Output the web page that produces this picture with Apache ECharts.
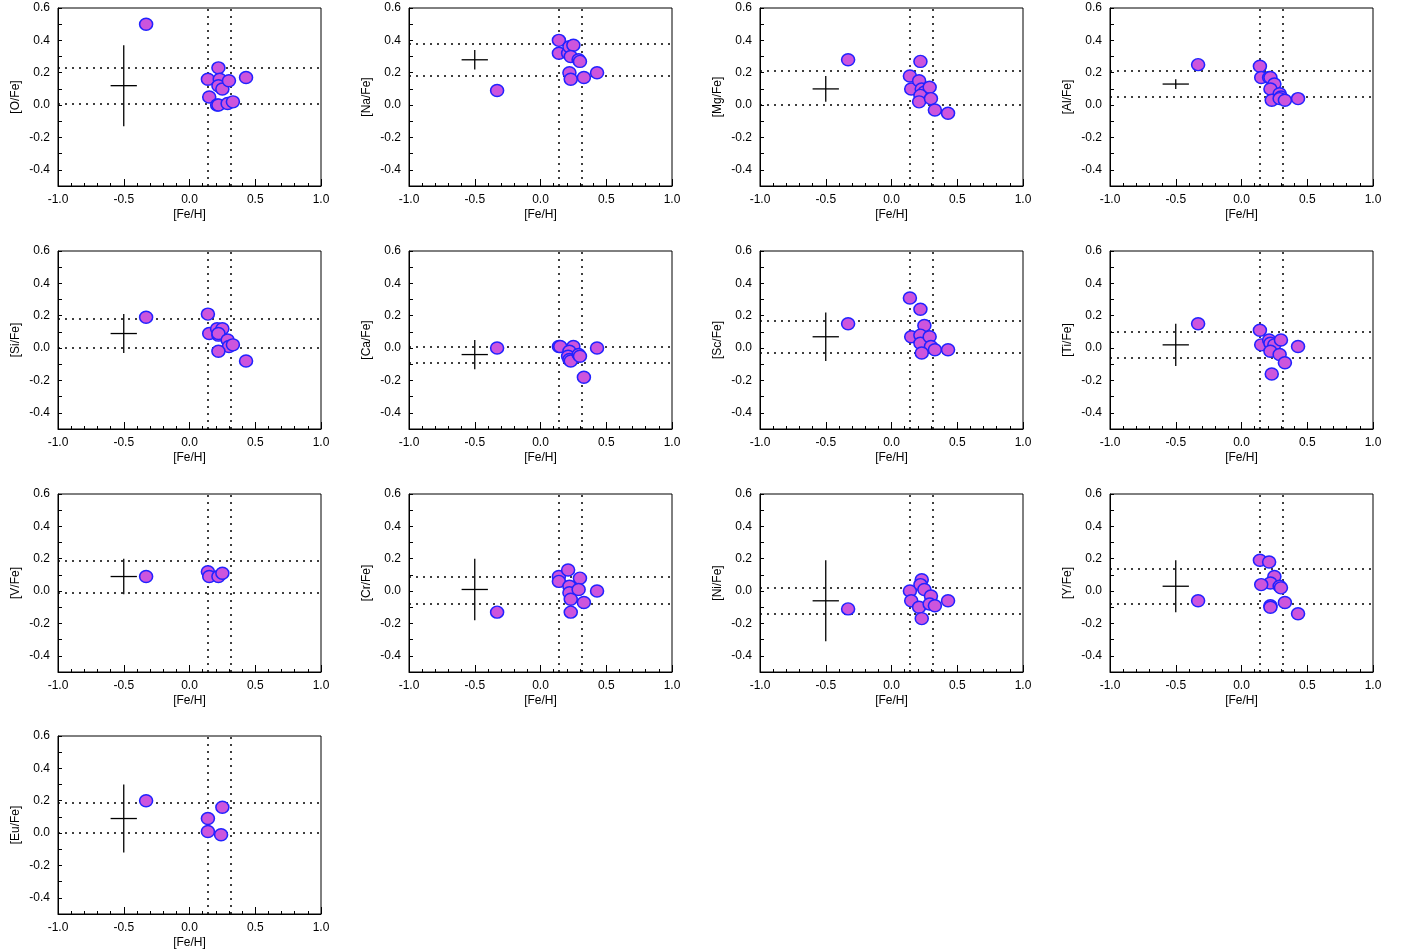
<!DOCTYPE html>
<html><head><meta charset="utf-8">
<script src="https://cdn.jsdelivr.net/npm/echarts@6/dist/echarts.min.js"></script>
<style>html,body{margin:0;padding:0;background:#fff}#c{width:1405px;height:952px}</style>
</head><body><div id="c"></div>
<script>
const elements = ['O','Na','Mg','Al','Si','Ca','Sc','Ti','V','Cr','Ni','Y','Eu'];
const vlines = [0.14, 0.31];
const pO  = [[-0.33,0.50],[0.14,0.16],[0.15,0.05],[0.22,0.23],[0.23,0.16],[0.22,0.12],[0.25,0.10],[0.30,0.15],[0.43,0.17],[0.21,0.00],[0.22,0.00],[0.29,0.01],[0.33,0.02]];
const pNa = [[-0.33,0.09],[0.14,0.40],[0.14,0.32],[0.21,0.32],[0.22,0.36],[0.25,0.37],[0.23,0.30],[0.29,0.28],[0.30,0.27],[0.22,0.20],[0.23,0.16],[0.33,0.17],[0.43,0.20]];
const pMg = [[-0.33,0.28],[0.14,0.18],[0.15,0.10],[0.22,0.27],[0.21,0.15],[0.23,0.10],[0.25,0.08],[0.29,0.11],[0.22,0.06],[0.21,0.02],[0.30,0.04],[0.33,-0.03],[0.43,-0.05]];
const pAl = [[-0.33,0.25],[0.14,0.24],[0.15,0.17],[0.21,0.17],[0.22,0.17],[0.25,0.13],[0.22,0.10],[0.29,0.07],[0.30,0.05],[0.23,0.03],[0.29,0.04],[0.33,0.03],[0.43,0.04]];
const pSi = [[-0.33,0.19],[0.14,0.21],[0.15,0.09],[0.21,0.12],[0.22,0.08],[0.25,0.12],[0.22,0.09],[0.29,0.05],[0.30,0.01],[0.33,0.02],[0.22,-0.02],[0.43,-0.08]];
const pCa = [[-0.33,0.00],[0.14,0.01],[0.15,0.01],[0.25,0.01],[0.22,-0.02],[0.21,-0.05],[0.22,-0.07],[0.23,-0.08],[0.29,-0.04],[0.30,-0.05],[0.33,-0.18],[0.43,0.00]];
const pSc = [[-0.33,0.15],[0.14,0.31],[0.22,0.24],[0.25,0.14],[0.15,0.07],[0.22,0.08],[0.22,0.03],[0.29,0.07],[0.30,0.01],[0.33,-0.01],[0.23,-0.03],[0.43,-0.01]];
const pTi = [[-0.33,0.15],[0.14,0.11],[0.15,0.02],[0.21,0.05],[0.22,0.03],[0.25,0.02],[0.22,-0.02],[0.30,0.05],[0.29,-0.04],[0.33,-0.09],[0.23,-0.16],[0.43,0.01]];
const pV  = [[-0.33,0.09],[0.14,0.12],[0.15,0.09],[0.22,0.09],[0.25,0.11]];
const pCr = [[-0.33,-0.13],[0.14,0.09],[0.14,0.06],[0.21,0.13],[0.22,0.03],[0.22,-0.01],[0.23,-0.05],[0.23,-0.13],[0.30,0.08],[0.29,0.01],[0.33,-0.07],[0.43,0.00]];
const pNi = [[-0.33,-0.11],[0.14,0.00],[0.15,-0.06],[0.23,0.07],[0.22,0.04],[0.25,0.01],[0.21,-0.10],[0.23,-0.17],[0.30,-0.03],[0.29,-0.08],[0.33,-0.09],[0.43,-0.06]];
const pY  = [[-0.33,-0.06],[0.14,0.19],[0.21,0.18],[0.25,0.09],[0.22,0.05],[0.15,0.04],[0.29,0.03],[0.30,0.02],[0.22,-0.09],[0.22,-0.10],[0.33,-0.07],[0.43,-0.14]];
const pEu = [[-0.33,0.20],[0.14,0.09],[0.14,0.01],[0.25,0.16],[0.24,-0.01]];
const points = [pO,pNa,pMg,pAl,pSi,pCa,pSc,pTi,pV,pCr,pNi,pY,pEu];
// error cross: [x, y, xerr, yerr]
const errs = [[-0.5,0.12,0.1,0.25],[-0.5,0.28,0.1,0.06],[-0.5,0.10,0.1,0.08],[-0.5,0.13,0.1,0.03],[-0.5,0.09,0.1,0.12],[-0.5,-0.04,0.1,0.09],[-0.5,0.07,0.1,0.15],[-0.5,0.02,0.1,0.13],[-0.5,0.09,0.1,0.11],[-0.5,0.01,0.1,0.19],[-0.5,-0.06,0.1,0.25],[-0.5,0.03,0.1,0.16],[-0.5,0.09,0.1,0.21]];
const hlines = [[0.23,0.01],[0.38,0.18],[0.21,0.0],[0.21,0.05],[0.18,0.0],[0.01,-0.09],[0.17,-0.03],[0.10,-0.06],[0.19,-0.01],[0.09,-0.08],[0.02,-0.14],[0.14,-0.08],[0.19,0.0]];

const colL = [58,409,760,1110], rowT = [8,251,494,736], W = 263, H = 178;
const font = 'Liberation Sans';
const grid=[], xAxis=[], yAxis=[], series=[];
const tickStyle = {color:'#000'};
elements.forEach((el,i)=>{
  const c=i%4, r=Math.floor(i/4);
  grid.push({left:colL[c], top:rowT[r], width:W, height:H, show:true, borderColor:'#000', borderWidth:1});
  xAxis.push({gridIndex:i, type:'value', min:-1, max:1, interval:0.5,
    name:'[Fe/H]', nameLocation:'middle', nameGap:23, nameTextStyle:{fontFamily:font,fontSize:12,color:'#000'},
    axisLine:{onZero:false, lineStyle:{color:'#000'}}, axisTick:{inside:true,length:7,lineStyle:tickStyle},
    minorTick:{show:true,splitNumber:5,length:3,lineStyle:tickStyle},
    axisLabel:{fontFamily:font,fontSize:12,color:'#000',formatter:v=>v.toFixed(1),margin:8}, splitLine:{show:false}});
  yAxis.push({gridIndex:i, type:'value', min:-0.5, max:0.6, interval:0.1,
    name:'['+el+'/Fe]', nameLocation:'middle', nameGap:36, nameTextStyle:{fontFamily:font,fontSize:12,color:'#000'},
    axisLine:{onZero:false, lineStyle:{color:'#000'}}, axisTick:{inside:true,length:4,lineStyle:tickStyle},
    axisLabel:{fontFamily:font,fontSize:12,color:'#000',margin:8,
      formatter:v=>{const k=Math.round(v*10); return (k%2===0 && k>-5)?(k/10).toFixed(1):'';}},
    splitLine:{show:false}});
  series.push({type:'scatter', xAxisIndex:i, yAxisIndex:i, data:[], z:1, silent:true,
    markLine:{silent:true, symbol:'none', label:{show:false}, z:1,
      lineStyle:{color:'#000', type:[2,5], width:1.5},
      data:[{xAxis:vlines[0]},{xAxis:vlines[1]},{yAxis:hlines[i][0]},{yAxis:hlines[i][1]}]}});
  series.push({type:'scatter', xAxisIndex:i, yAxisIndex:i, data:points[i], symbolSize:[13,12], z:4,
    itemStyle:{color:'#cc55dd', borderColor:'#2222ff', borderWidth:1.5, opacity:1}});
  series.push({type:'custom', xAxisIndex:i, yAxisIndex:i, data:[errs[i]], z:5,
    renderItem:(p,api)=>{
      const x=api.value(0), y=api.value(1), dx=api.value(2), dy=api.value(3);
      const a=api.coord([x-dx,y]), b=api.coord([x+dx,y]), t=api.coord([x,y+dy]), d=api.coord([x,y-dy]);
      const st={stroke:'#000', lineWidth:1.3};
      return {type:'group', children:[
        {type:'line', shape:{x1:a[0],y1:a[1],x2:b[0],y2:b[1]}, style:st},
        {type:'line', shape:{x1:t[0],y1:t[1],x2:d[0],y2:d[1]}, style:st}]};
    }});
});
const chart = echarts.init(document.getElementById('c'));
chart.setOption({animation:false, backgroundColor:'#fff', grid, xAxis, yAxis, series});
</script></body></html>
